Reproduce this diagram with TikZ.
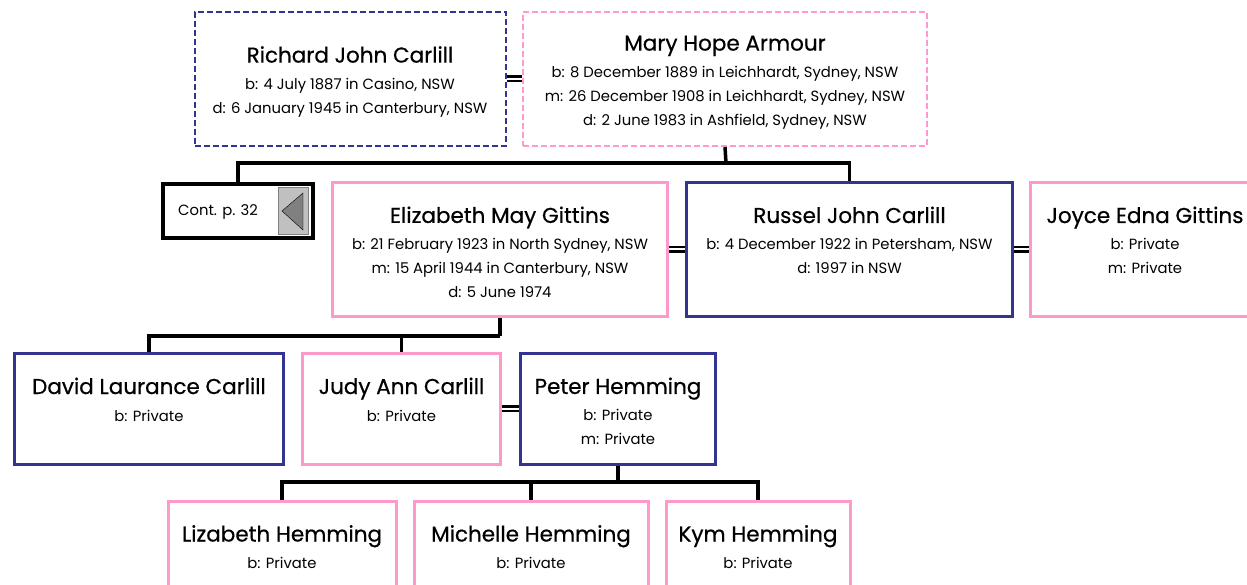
\documentclass[tikz,border=0pt]{standalone}
\usepackage{fontspec}
\setmainfont{Poppins}
\newfontfamily\namefont{Poppins}[FakeBold=0.6]
\definecolor{navy}{RGB}{51,51,145}
\definecolor{rose}{RGB}{255,153,204}
\definecolor{btngray}{RGB}{192,192,192}
\newcommand{\who}[1]{{\namefont\fontsize{21.5}{24}\selectfont\rule{0pt}{22pt}#1}\\[3pt]}

\begin{document}
\begin{tikzpicture}[x=1pt,y=-1pt,
        person/.style={draw,line width=3pt,align=center,inner sep=0pt,
          font=\fontsize{14.8}{24}\selectfont},
        male/.style={person,draw=navy},
        female/.style={person,draw=rose},
        elder/.style={line width=2pt,dash pattern=on 6pt off 3pt},
        link/.style={line width=3.5pt},
        wed/.style={double,line width=2.5pt,double distance=2pt}]

  \useasboundingbox (0,0) rectangle (1247,585);

  \node[male,elder,minimum width=311pt,minimum height=134pt] (richard) at (350,79)
    {\who{Richard John Carlill}b: 4 July 1887 in Casino, NSW\\d: 6 January 1945 in Canterbury, NSW};
  \node[female,elder,minimum width=404pt,minimum height=134pt] (mary) at (725,79)
    {\who{Mary Hope Armour}b: 8 December 1889 in Leichhardt, Sydney, NSW\\m: 26 December 1908 in Leichhardt, Sydney, NSW\\d: 2 June 1983 in Ashfield, Sydney, NSW};

  \node[draw,line width=4pt,minimum width=150pt,minimum height=54pt,inner sep=0pt] (cont) at (238,211) {};
  \node[font=\fontsize{14.8}{16}\selectfont] (contlabel) at (218,212) {Cont. p. 32};
  \node[draw=gray,fill=btngray,line width=1pt,minimum width=30pt,minimum height=47pt,inner sep=0pt] (contbtn) at (293.5,211) {};
  \draw[fill=gray] (282,211) -- (303,193) -- (303,230) -- cycle;

  \node[female,minimum width=335pt,minimum height=133pt] (elizabeth) at (500,249.5)
    {\who{Elizabeth May Gittins}b: 21 February 1923 in North Sydney, NSW\\m: 15 April 1944 in Canterbury, NSW\\d: 5 June 1974};
  \node[male,minimum width=326pt,minimum height=133pt] (russel) at (849.5,249.5)
    {\who{Russel John Carlill}b: 4 December 1922 in Petersham, NSW\\d: 1997 in NSW\\ ~};
  \node[female,minimum width=230pt,minimum height=133pt] (joyce) at (1145,249.5)
    {\who{Joyce Edna Gittins}b: Private\\m: Private\\ ~};

  \node[male,minimum width=269pt,minimum height=111pt] (david) at (149,408.5)
    {\who{David Laurance Carlill}b: Private\\ ~};
  \node[female,minimum width=198pt,minimum height=111pt] (judy) at (401.5,408.5)
    {\who{Judy Ann Carlill}b: Private\\ ~};
  \node[male,minimum width=195pt,minimum height=111pt] (peter) at (618,408.5)
    {\who{Peter Hemming}b: Private\\m: Private};

  \node[female,minimum width=228pt,minimum height=110pt] (lizabeth) at (282,556)
    {\who{Lizabeth Hemming}b: Private\\ ~};
  \node[female,minimum width=234pt,minimum height=110pt] (michelle) at (531,556)
    {\who{Michelle Hemming}b: Private\\ ~};
  \node[female,minimum width=184pt,minimum height=110pt] (kym) at (758,556)
    {\who{Kym Hemming}b: Private\\ ~};

  \coordinate (j1) at (726,163);
  \coordinate (j2) at (500,336);
  \coordinate (j3) at (618,482);

  \draw[wed] (richard.east) -- (mary.west);
  \draw[wed] (elizabeth.east) -- (russel.west);
  \draw[wed] (russel.east) -- (joyce.west);
  \draw[wed] (judy.east) -- (peter.west);

  \draw[link] (mary.south) -- (j1);
  \draw[link] (cont.north) |- (j1) -| (russel.north);
  \draw[link] (elizabeth.south) -- (j2);
  \draw[link] (david.north) |- (j2);
  \draw[link] (judy.north) -- (judy.north |- j2);
  \draw[link] (peter.south) -- (j3);
  \draw[link] (lizabeth.north) |- (j3) -| (kym.north);
  \draw[link] (michelle.north) -- (michelle.north |- j3);

\end{tikzpicture}
\end{document}
